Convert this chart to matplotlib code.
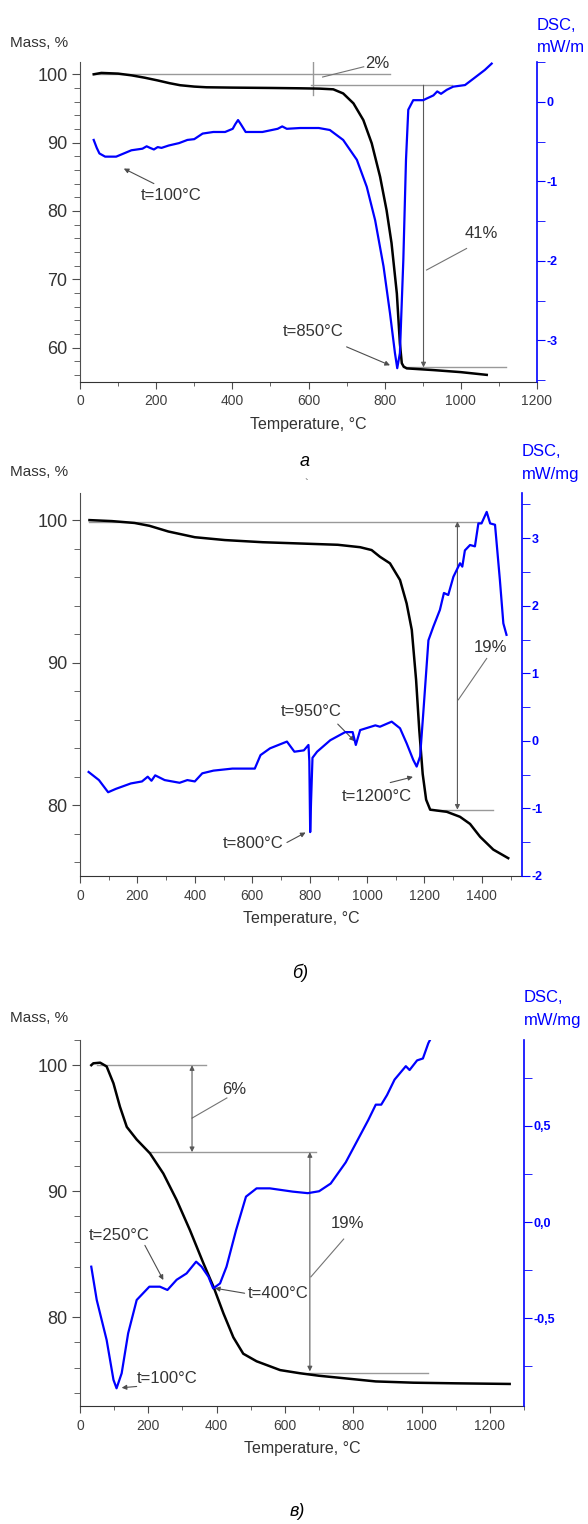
import matplotlib
matplotlib.use('Agg')
from matplotlib import pyplot as plt
from matplotlib.ticker import MultipleLocator, FuncFormatter

plt.rcParams['font.family'] = ['Liberation Sans', 'DejaVu Sans']
plt.rcParams['axes.unicode_minus'] = False

# --- panel a ---
ta_T = [36, 56, 100, 135, 170, 204, 235, 263, 300, 332, 400, 500, 578, 630, 665, 691, 718, 744,
        766, 788, 805, 818, 832, 840, 845, 850, 858, 928, 1000, 1068]
ta_m = [100.0, 100.2, 100.1, 99.85, 99.5, 99.1, 98.7, 98.4, 98.2, 98.1, 98.05, 98.0, 97.95, 97.9,
        97.8, 97.2, 95.75, 93.3, 89.9, 85.0, 80.1, 75.3, 67.9, 60.6, 57.7, 57.2, 56.95, 56.7, 56.4,
        56.0]
da_T = [36, 44, 51, 66, 95, 115, 135, 164, 175, 184, 194, 204, 214, 233, 260, 282, 300, 322, 350,
        381, 401, 408, 415, 422, 435, 479, 519, 531, 543, 578, 627, 656, 691, 727, 753, 775, 797,
        814, 827, 833, 840, 849, 856, 862, 875, 901, 928, 938, 948, 963, 980, 1011, 1033, 1063, 1081]
da_v = [-0.48, -0.58, -0.65, -0.69, -0.69, -0.65, -0.61, -0.59, -0.56, -0.58, -0.6, -0.57, -0.58,
        -0.55, -0.52, -0.48, -0.47, -0.40, -0.38, -0.38, -0.34, -0.28, -0.23, -0.28, -0.38, -0.38,
        -0.34, -0.31, -0.34, -0.33, -0.33, -0.355, -0.48, -0.73, -1.07, -1.49, -2.07, -2.66, -3.16,
        -3.35, -3.16, -1.99, -0.73, -0.1, 0.02, 0.02, 0.08, 0.13, 0.10, 0.15, 0.19, 0.21, 0.29, 0.40,
        0.48]

# --- panel b ---
tb_T = [33, 111, 190, 242, 308, 400, 505, 636, 767, 898, 976, 1016, 1045, 1080, 1115, 1138, 1156,
        1171, 1182, 1194, 1206, 1220, 1278, 1324, 1359, 1394, 1440, 1492]
tb_m = [100.0, 99.93, 99.8, 99.6, 99.2, 98.8, 98.6, 98.45, 98.36, 98.27, 98.1, 97.9, 97.43, 96.97,
        95.8, 94.16, 92.3, 88.8, 85.3, 82.2, 80.4, 79.7, 79.55, 79.2, 78.7, 77.8, 76.9, 76.3]
db_T = [30, 66, 98, 125, 177, 216, 236, 249, 262, 295, 347, 374, 400, 426, 465, 531, 609, 629, 662,
        721, 747, 780, 796, 799, 802, 805, 810, 826, 872, 924, 950, 961, 976, 1029, 1045, 1086,
        1115, 1138, 1161, 1173, 1185, 1196, 1214, 1231, 1254, 1268, 1283, 1301, 1324, 1332, 1341,
        1359, 1376, 1388, 1399, 1417, 1429, 1446, 1463, 1475, 1486]
db_v = [-0.46, -0.58, -0.76, -0.71, -0.63, -0.6, -0.53, -0.59, -0.51, -0.58, -0.62, -0.58, -0.6,
        -0.48, -0.44, -0.41, -0.41, -0.21, -0.11, -0.01, -0.16, -0.14, -0.06, -0.3, -1.35, -0.9,
        -0.25, -0.16, 0.01, 0.13, 0.13, -0.06, 0.16, 0.23, 0.21, 0.285, 0.187, -0.035, -0.28,
        -0.38, -0.23, 0.41, 1.49, 1.69, 1.94, 2.19, 2.16, 2.43, 2.63, 2.58, 2.82, 2.90, 2.88, 3.22,
        3.22, 3.39, 3.22, 3.20, 2.38, 1.74, 1.57]

# --- panel c ---
tc_T = [33, 39, 59, 78, 98, 117, 137, 166, 205, 244, 283, 322, 361, 391, 420, 449, 478, 517, 586,
        644, 700, 756, 866, 976, 1100, 1258]
tc_m = [100.0, 100.15, 100.2, 99.9, 98.56, 96.7, 95.1, 94.1, 93.0, 91.4, 89.3, 86.9, 84.3, 82.4,
        80.3, 78.4, 77.1, 76.5, 75.8, 75.55, 75.35, 75.2, 74.9, 74.8, 74.75, 74.7]
dc_T = [33, 49, 78, 98, 107, 122, 141, 166, 203, 234, 256, 283, 312, 340, 356, 376, 390, 410, 429,
        457, 486, 517, 556, 623, 667, 700, 734, 778, 811, 844, 866, 882, 899, 921, 954, 965, 987,
        1004, 1020, 1026]
dc_v = [-0.232, -0.405, -0.613, -0.82, -0.864, -0.786, -0.578, -0.405, -0.336, -0.336, -0.353,
        -0.30, -0.267, -0.206, -0.232, -0.284, -0.345, -0.319, -0.232, -0.042, 0.132, 0.175, 0.175,
        0.158, 0.15, 0.16, 0.20, 0.31, 0.42, 0.53, 0.61, 0.61, 0.66, 0.74, 0.81, 0.79, 0.84, 0.85,
        0.93, 0.95]

W, H = 588, 1524
BLUE = '#0000ff'
GRAY = '0.6'
fig = plt.figure(figsize=(W / 100, H / 100), dpi=100)


def fig_text(x, y, s, **kw):
    fig.text(x / W, 1 - y / H, s, **kw)


def make_panel(box, xlim, ylim, ylim2, xmaj, ymaj, ymin, y2maj, y2min, y2fmt):
    l, t, r, b = box
    ax = fig.add_axes([l / W, 1 - b / H, (r - l) / W, (b - t) / H])
    ax2 = ax.twinx()
    ax.set_xlim(*xlim)
    ax.set_ylim(*ylim)
    ax2.set_ylim(*ylim2)
    for a in (ax, ax2):
        a.spines['top'].set_visible(False)
        a.patch.set_visible(False)
    ax.spines['right'].set_visible(False)
    ax2.spines['left'].set_visible(False)
    ax2.spines['bottom'].set_visible(False)
    ax2.spines['right'].set_color(BLUE)
    ax2.spines['right'].set_linewidth(1.2)
    ax.spines['left'].set_color('0.3')
    ax.spines['bottom'].set_color('0.2')
    ax.xaxis.set_major_locator(MultipleLocator(xmaj))
    ax.xaxis.set_minor_locator(MultipleLocator(xmaj / 2))
    ax.yaxis.set_major_locator(MultipleLocator(ymaj))
    ax.yaxis.set_minor_locator(MultipleLocator(ymin))
    ax2.yaxis.set_major_locator(MultipleLocator(y2maj))
    ax2.yaxis.set_minor_locator(MultipleLocator(y2min))
    ax2.yaxis.set_major_formatter(FuncFormatter(y2fmt))
    ax.tick_params(axis='x', which='major', direction='out', length=5, labelsize=10,
                   labelcolor='0.25', color='0.3', pad=4)
    ax.tick_params(axis='x', which='minor', direction='out', length=3, color='0.3')
    ax.tick_params(axis='y', which='major', direction='out', length=6, labelsize=13,
                   labelcolor='0.2', color='0.3', pad=3)
    ax.tick_params(axis='y', which='minor', direction='out', length=4, color='0.3')
    ax2.tick_params(axis='y', which='both', direction='out', length=6, color=BLUE,
                    labelcolor=BLUE, labelsize=9, pad=1)
    for lab in ax2.get_yticklabels():
        lab.set_fontweight('bold')
    ax.set_xlabel('Temperature, °C', fontsize=11.5, color='0.2', labelpad=6)
    return ax, ax2


def gline(ax, x, y, color=GRAY, lw=1.0):
    ax.plot(x, y, color=color, lw=lw, zorder=1)


def arrow(ax, xy, xytext, style='-|>', color='0.3'):
    ax.annotate('', xy=xy, xytext=xytext,
                arrowprops=dict(arrowstyle=style, color=color, lw=0.8, mutation_scale=7,
                                shrinkA=0, shrinkB=0))


def label(ax, x, y, s, size=12):
    ax.text(x, y, s, fontsize=size, color='0.2', ha='center', va='center')


int_fmt = lambda v, p: ('%d' % round(v)) if abs(v - round(v)) < 1e-6 else ''
comma_fmt = lambda v, p: ('%.1f' % v).replace('.', ',') if abs(v * 2 - round(v * 2)) < 1e-6 else ''

# ---------- panel a ----------
ax, ax2 = make_panel((80, 62, 537, 381.7), (0, 1200), (55.0, 101.8), (-3.52, 0.5),
                     200, 10, 2, 1, 0.5, int_fmt)
gline(ax, [36, 814], [100, 100])
gline(ax, [607, 976], [98.4, 98.4])
gline(ax, [612, 612], [101.8, 96.9])
gline(ax, [848, 1119], [57.1, 57.1])
arrow(ax, (902, 57.1), (902, 98.4), color='0.35')
ax.plot([745, 637], [101.1, 99.6], color='0.45', lw=0.8)
label(ax, 780, 101.6, '2%')
ax.plot([1015, 910], [74.5, 71.35], color='0.45', lw=0.8)
label(ax, 1055, 76.7, '41%')
label(ax, 612, 62.4, 't=850°C')
arrow(ax, (814, 57.4), (700, 60.1))
label(ax, 238, 82.2, 't=100°C')
arrow(ax, (115, 86.2), (194, 84.0))
ax.plot(ta_T, ta_m, color='black', lw=1.8, zorder=3)
ax2.plot(da_T, da_v, color=BLUE, lw=1.6, zorder=2)
fig_text(10, 43, 'Mass, %', fontsize=11, color='0.2', va='center')
fig_text(537, 25, 'DSC,', fontsize=12, color=BLUE, va='center')
fig_text(537, 47, 'mW/m', fontsize=12, color=BLUE, va='center')
fig_text(305, 462, 'a', fontsize=13, style='italic', ha='center', va='center')
fig_text(306, 484, '`', fontsize=8, ha='center', va='center', color='0.3')

# ---------- panel b ----------
ax, ax2 = make_panel((80, 493, 522, 876), (0, 1540), (75.05, 101.9), (-2.0, 3.67),
                     200, 10, 2, 1, 0.5, int_fmt)
gline(ax, [33, 1396], [99.9, 99.9])
gline(ax, [1239, 1439], [79.67, 79.67])
arrow(ax, (1315, 99.9), (1315, 79.7), style='<|-|>', color='0.35')
ax.plot([1417, 1318], [90.3, 87.4], color='0.45', lw=0.8)
label(ax, 1429, 91.1, '19%')
label(ax, 806, 86.6, 't=950°C')
arrow(ax, (957, 84.5), (898, 85.7))
label(ax, 1035, 80.6, 't=1200°C')
arrow(ax, (1160, 82.0), (1081, 81.6))
label(ax, 603, 77.3, 't=800°C')
arrow(ax, (786, 78.1), (721, 77.4))
ax.plot(tb_T, tb_m, color='black', lw=1.8, zorder=3)
ax2.plot(db_T, db_v, color=BLUE, lw=1.6, zorder=2)
fig_text(10, 472, 'Mass, %', fontsize=11, color='0.2', va='center')
fig_text(522, 452, 'DSC,', fontsize=12, color=BLUE, va='center')
fig_text(522, 475, 'mW/mg', fontsize=12, color=BLUE, va='center')
fig_text(300, 973, 'б)', fontsize=13, style='italic', ha='center', va='center')

# ---------- panel c ----------
ax, ax2 = make_panel((80, 1040, 524, 1406), (0, 1300), (72.95, 102.0), (-0.956, 0.946),
                     200, 10, 2, 0.5, 0.25, comma_fmt)
gline(ax, [50, 370], [100, 100])
gline(ax, [204, 690], [93.1, 93.1])
gline(ax, [667, 1020], [75.6, 75.6])
arrow(ax, (328, 100), (328, 93.1), style='<|-|>', color='0.35')
arrow(ax, (673, 93.1), (673, 75.7), style='<|-|>', color='0.35')
ax.plot([430, 328], [97.4, 95.8], color='0.45', lw=0.8)
label(ax, 452, 98.1, '6%')
ax.plot([772, 676], [86.2, 83.2], color='0.45', lw=0.8)
label(ax, 783, 87.4, '19%')
label(ax, 115, 86.5, 't=250°C')
arrow(ax, (244, 82.95), (190, 85.7))
label(ax, 579, 81.9, 't=400°C')
arrow(ax, (395, 82.3), (482, 81.9))
label(ax, 254, 75.1, 't=100°C')
arrow(ax, (122, 74.4), (166, 74.5))
ax.plot(tc_T, tc_m, color='black', lw=1.8, zorder=3)
ax2.plot(dc_T, dc_v, color=BLUE, lw=1.6, zorder=2)
fig_text(10, 1018, 'Mass, %', fontsize=11, color='0.2', va='center')
fig_text(524, 997, 'DSC,', fontsize=12, color=BLUE, va='center')
fig_text(524, 1021, 'mW/mg', fontsize=12, color=BLUE, va='center')
fig_text(297, 1512, 'в)', fontsize=13, style='italic', ha='center', va='center')

fig.savefig('out.png', dpi=100, facecolor='white')
